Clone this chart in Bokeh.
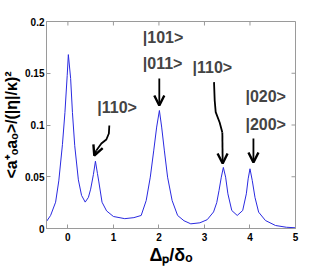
from bokeh.plotting import figure
from bokeh.models import Range1d, FixedTicker, Label, Arrow, OpenHead
from bokeh.embed import file_html
from bokeh.resources import INLINE

# ---- data ----
detuning = [-0.47, -0.38, -0.27, -0.2, -0.12, -0.065, -0.015, 0.01, 0.06, 0.1,
            0.15, 0.23, 0.3, 0.38, 0.45, 0.5, 0.56, 0.605, 0.65, 0.68,
            0.75, 0.85, 1.0, 1.25, 1.45, 1.61, 1.72, 1.81, 1.885, 1.95,
            2.01, 2.06, 2.12, 2.19, 2.29, 2.41, 2.55, 2.7, 2.9, 3.06,
            3.2, 3.27, 3.32, 3.37, 3.415, 3.465, 3.515, 3.6, 3.72, 3.84,
            3.92, 3.96, 4.0, 4.05, 4.11, 4.19, 4.34, 4.56, 4.8, 5.0]
occupation = [0.0068, 0.0126, 0.0254, 0.046, 0.081, 0.112, 0.148, 0.168, 0.145, 0.112,
              0.080, 0.047, 0.032, 0.0255, 0.030, 0.038, 0.052, 0.065, 0.053, 0.045,
              0.0254, 0.017, 0.0116, 0.0095, 0.0105, 0.0126, 0.027, 0.0496, 0.075, 0.098,
              0.114, 0.098, 0.075, 0.0496, 0.027, 0.0126, 0.0075, 0.0045, 0.0055, 0.0085,
              0.016, 0.025, 0.0367, 0.0496, 0.059, 0.0496, 0.0335, 0.0174, 0.0126, 0.0174,
              0.0335, 0.048, 0.0577, 0.0464, 0.030, 0.0158, 0.0077, 0.0029, 0.0012, 0.0007]

x_ticks = [0, 1, 2, 3, 4, 5]
x_tick_labels = ["0", "1", "2", "3", "4", "5"]
y_ticks = [0, 0.05, 0.1, 0.15, 0.2]
y_tick_labels = ["0", "0.05", "0.1", "0.15", "0.2"]

x_title = "Δₚ/δₒ"
y_title = "<a⁺ₒaₒ>/(|η|/κ)²"

state_labels = ["|110>", "|101>", "|011>", "|110>", "|020>", "|200>"]
state_label_x = [0.645, 1.646, 1.646, 2.738, 3.90, 3.90]
state_label_y = [0.117, 0.1846, 0.1599, 0.1558, 0.1275, 0.1005]

# arrow paths (last point = arrow tip)
arrow_paths = [
    ([0.91, 0.90, 0.845, 0.735, 0.625, 0.58], [0.0995, 0.0918, 0.086, 0.0821, 0.0754, 0.0705]),
    ([2.008, 2.008], [0.145, 0.1188]),
    ([3.21, 3.225, 3.247, 3.334, 3.393, 3.40], [0.1414, 0.1237, 0.1124, 0.1024, 0.0928, 0.0628]),
    ([4.076, 4.076], [0.087, 0.0638]),
]

X_MIN, X_MAX = -0.47, 5.0
Y_MIN, Y_MAX = 0.0, 0.2
FONT = "Liberation Sans"
FRAME = "#9a9a9a"
W, H = 327, 273
BL, BR, BT, BB = 45, 32, 21, 45
FRAME_W, FRAME_H = W - BL - BR, H - BT - BB
TICK_PX = 4

p = figure(width=W, height=H, x_range=Range1d(X_MIN, X_MAX), y_range=Range1d(Y_MIN, Y_MAX),
           output_backend="svg", toolbar_location=None,
           min_border_left=BL, min_border_right=BR, min_border_top=BT, min_border_bottom=BB)
p.xgrid.visible = False
p.ygrid.visible = False
p.outline_line_color = FRAME
p.background_fill_color = "white"
p.border_fill_color = "white"


def style_axis(ax, ticks, labels):
    ax.ticker = FixedTicker(ticks=ticks)
    ax.major_label_overrides = {t: l for t, l in zip(ticks, labels)}
    ax.major_tick_in = TICK_PX
    ax.major_tick_out = 0
    ax.minor_tick_in = 0
    ax.minor_tick_out = 0
    ax.axis_line_color = FRAME
    ax.major_tick_line_color = FRAME
    ax.major_label_text_font = FONT
    ax.major_label_text_font_style = "bold"
    ax.major_label_text_font_size = "10px"
    ax.major_label_text_color = "black"
    ax.axis_label_text_font = FONT
    ax.axis_label_text_font_style = "bold"
    ax.axis_label_text_color = "black"


style_axis(p.xaxis[0], x_ticks, x_tick_labels)
style_axis(p.yaxis[0], y_ticks, y_tick_labels)
p.xaxis[0].major_label_standoff = 4
p.yaxis[0].major_label_standoff = 2
p.xaxis[0].axis_label = x_title
p.xaxis[0].axis_label_text_font_size = "18px"
p.xaxis[0].axis_label_standoff = 1
p.yaxis[0].axis_label = y_title
p.yaxis[0].axis_label_text_font_size = "16px"
p.yaxis[0].axis_label_standoff = 2

# inward ticks on the top and right sides of the box
dy_tick = TICK_PX * (Y_MAX - Y_MIN) / FRAME_H
dx_tick = TICK_PX * (X_MAX - X_MIN) / FRAME_W
p.segment(x0=x_ticks, y0=[Y_MAX] * len(x_ticks), x1=x_ticks, y1=[Y_MAX - dy_tick] * len(x_ticks),
          line_color=FRAME, line_width=1)
p.segment(x0=[X_MAX] * len(y_ticks), y0=y_ticks, x1=[X_MAX - dx_tick] * len(y_ticks), y1=y_ticks,
          line_color=FRAME, line_width=1)

p.line(detuning, occupation, line_color="#2a2ae0", line_width=1)

for t, x, y in zip(state_labels, state_label_x, state_label_y):
    p.add_layout(Label(x=x, y=y, text=t, text_font=FONT, text_font_style="bold",
                       text_font_size="16px", text_baseline="middle", text_align="left"))

for xs, ys in arrow_paths:
    if len(xs) > 2:
        p.line(xs[:-1], ys[:-1], line_color="black", line_width=1.8)
    p.add_layout(Arrow(end=OpenHead(size=10, line_width=2.4, line_color="black"),
                       x_start=xs[-2], y_start=ys[-2], x_end=xs[-1], y_end=ys[-1],
                       line_width=1.8, line_color="black"))

open("out.html", "w").write(file_html(p, INLINE))
